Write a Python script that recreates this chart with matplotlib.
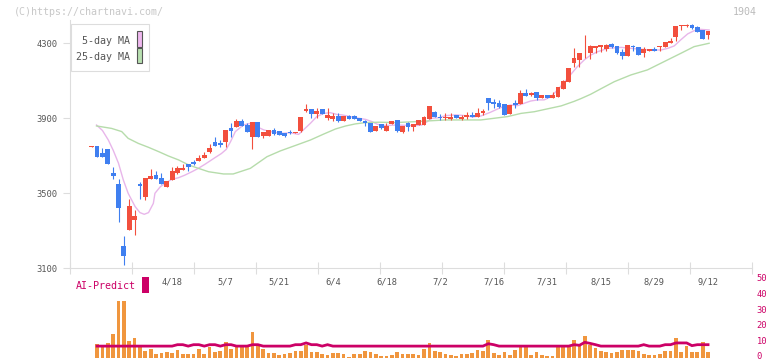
import matplotlib
matplotlib.use("Agg")
import matplotlib.pyplot as plt
from matplotlib.patches import Rectangle
from matplotlib.transforms import blended_transform_factory

# daily candles (index 0 = first visible day, 115 = 9/12)
opens = [3748, 3752, 3715, 3736, 3608, 3549, 3219, 3306, 3358, 3549,
         3478, 3578, 3596, 3582, 3535, 3572, 3606, 3624, 3654, 3667,
         3672, 3688, 3720, 3773, 3770, 3772, 3847, 3855, 3886, 3862,
         3802, 3880, 3806, 3807, 3836, 3830, 3823, 3827, 3822, 3834,
         3939, 3948, 3925, 3950, 3902, 3896, 3912, 3887, 3912, 3912,
         3900, 3884, 3873, 3834, 3870, 3834, 3871, 3891, 3825, 3877,
         3855, 3864, 3864, 3894, 3935, 3909, 3903, 3898, 3916, 3898,
         3905, 3919, 3905, 3926, 4006, 3987, 3980, 3976, 3923, 3981,
         3976, 4035, 4024, 4038, 4008, 4024, 4006, 4015, 4058, 4095,
         4197, 4212, 4251, 4250, 4275, 4282, 4268, 4296, 4285, 4255,
         4234, 4285, 4278, 4246, 4261, 4271, 4282, 4282, 4303, 4335,
         4392, 4394, 4397, 4389, 4371, 4344]
highs = [3752, 3752, 3740, 3736, 3640, 3576, 3272, 3469, 3411, 3562,
         3580, 3628, 3617, 3608, 3565, 3640, 3645, 3654, 3654, 3677,
         3704, 3722, 3763, 3798, 3784, 3838, 3873, 3896, 3898, 3873,
         3880, 3880, 3829, 3840, 3848, 3830, 3823, 3838, 3829, 3905,
         3974, 3948, 3953, 3950, 3953, 3926, 3926, 3912, 3918, 3916,
         3900, 3891, 3873, 3859, 3870, 3873, 3887, 3891, 3859, 3880,
         3869, 3891, 3912, 3966, 3941, 3923, 3926, 3930, 3916, 3920,
         3934, 3934, 3953, 3951, 4006, 4003, 3998, 3976, 3971, 3996,
         4049, 4056, 4040, 4038, 4024, 4024, 4042, 4067, 4104, 4168,
         4275, 4248, 4344, 4291, 4285, 4292, 4294, 4303, 4285, 4268,
         4293, 4292, 4278, 4278, 4268, 4278, 4287, 4305, 4326, 4392,
         4397, 4403, 4403, 4394, 4371, 4365]
lows = [3748, 3694, 3694, 3658, 3576, 3347, 3117, 3306, 3277, 3469,
        3464, 3578, 3578, 3551, 3535, 3572, 3601, 3624, 3619, 3651,
        3672, 3688, 3713, 3750, 3749, 3749, 3802, 3855, 3859, 3825,
        3736, 3800, 3797, 3807, 3811, 3809, 3798, 3816, 3820, 3829,
        3935, 3903, 3903, 3921, 3893, 3887, 3882, 3887, 3895, 3894,
        3884, 3859, 3829, 3834, 3843, 3834, 3871, 3828, 3820, 3834,
        3834, 3864, 3864, 3894, 3909, 3891, 3891, 3891, 3900, 3893,
        3894, 3905, 3905, 3919, 3944, 3957, 3953, 3917, 3923, 3957,
        3976, 4021, 4021, 3996, 4008, 4006, 4006, 4015, 4058, 4095,
        4175, 4172, 4220, 4216, 4246, 4253, 4261, 4275, 4243, 4214,
        4234, 4261, 4236, 4225, 4261, 4261, 4261, 4282, 4303, 4314,
        4371, 4385, 4378, 4362, 4323, 4325]
closes = [3752, 3694, 3694, 3658, 3594, 3423, 3167, 3432, 3379, 3539,
          3580, 3592, 3578, 3551, 3565, 3619, 3635, 3634, 3642, 3658,
          3688, 3704, 3741, 3750, 3756, 3838, 3831, 3886, 3859, 3825,
          3880, 3802, 3829, 3838, 3818, 3813, 3807, 3820, 3827, 3905,
          3948, 3923, 3937, 3921, 3916, 3912, 3887, 3912, 3898, 3898,
          3884, 3877, 3829, 3859, 3846, 3859, 3887, 3832, 3859, 3855,
          3869, 3891, 3909, 3966, 3909, 3903, 3909, 3909, 3900, 3909,
          3917, 3909, 3926, 3941, 3983, 3978, 3962, 3917, 3971, 3971,
          4035, 4021, 4033, 4008, 4024, 4006, 4024, 4067, 4099, 4168,
          4222, 4248, 4255, 4285, 4285, 4289, 4291, 4282, 4250, 4234,
          4293, 4282, 4239, 4268, 4268, 4261, 4287, 4305, 4312, 4392,
          4397, 4397, 4381, 4362, 4323, 4365]

# moving averages (day index, price)
ma5_x = [0.9, 2.0, 3.1, 4.0, 5.0, 5.9, 6.8, 8.1, 9.0, 9.8, 10.6, 11.5, 11.8, 12.8,
         13.7, 14.9, 16.2, 17.4, 18.7, 19.9, 21.2, 23.0, 24.2, 25.1, 25.9, 26.8,
         28.3, 29.6, 30.8, 32.1, 33.3, 34.6, 35.8, 37.0, 38.6, 39.5, 40.8, 42.0,
         43.3, 44.5, 45.8, 46.7, 49.2, 51.1, 52.3, 53.3, 54.8, 56.7, 58.6, 60.4,
         61.6, 62.6, 63.5, 64.8, 66.0, 67.9, 69.8, 71.0, 72.6, 74.4, 76.3, 78.2,
         79.4, 80.7, 81.9, 83.2, 84.4, 85.7, 86.9, 88.2, 89.4, 90.6, 91.9, 93.1,
         94.4, 96.3, 98.8, 100.6, 102.5, 104.4, 106.2, 107.5, 108.7, 109.9,
         111.2, 112.4, 113.6, 115.2]
ma5_y = [3864, 3835, 3784, 3730, 3660, 3571, 3500, 3429, 3397, 3388, 3397, 3446, 3500, 3535,
         3553, 3574, 3583, 3597, 3615, 3633, 3656, 3690, 3712, 3734, 3775, 3829,
         3864, 3873, 3855, 3838, 3829, 3823, 3820, 3823, 3814, 3838, 3873, 3909,
         3926, 3930, 3920, 3918, 3903, 3894, 3882, 3868, 3861, 3864, 3862, 3861,
         3864, 3882, 3900, 3903, 3914, 3918, 3914, 3907, 3912, 3932, 3957, 3971,
         3967, 3980, 3992, 3998, 3998, 4015, 4051, 4092, 4134, 4175, 4211, 4237,
         4255, 4273, 4278, 4273, 4268, 4264, 4264, 4273, 4286, 4318,
         4350, 4367, 4374, 4371]
ma25_x = [0.9, 3.7, 5.6, 6.8, 8.7, 10.6, 12.5, 14.3, 16.2, 18.1, 19.9, 21.8, 24.6,
          26.4, 29.6, 32.7, 35.2, 38.3, 40.8, 43.3, 45.5, 47.4, 49.2, 51.1, 53.6,
          56.7, 60.4, 63.5, 66.0, 69.8, 72.6, 75.1, 77.6, 80.1, 82.6, 85.0, 87.6,
          90.0, 91.3, 93.1, 94.4, 97.5, 100.6, 103.7, 106.8, 109.9, 112.4, 115.2]
ma25_y = [3859, 3846, 3829, 3793, 3766, 3745, 3722, 3699, 3678, 3651, 3633, 3615, 3603,
          3603, 3633, 3695, 3726, 3758, 3784, 3816, 3843, 3859, 3870, 3877, 3879,
          3877, 3882, 3887, 3891, 3891, 3891, 3900, 3909, 3926, 3935, 3950, 3966,
          3990, 4005, 4028, 4048, 4095, 4131, 4158, 4202, 4246, 4282, 4300]

# volume bars and AI-Predict line (days 1..115)
volume = [8.8, 6.7, 9.5, 15.2, 36, 36, 10.7, 12.6, 7.5, 4.4,
          5.7, 2.5, 3.2, 3.8, 3.2, 5.0, 2.5, 2.5, 2.5, 5.7,
          2.5, 6.9, 3.8, 4.4, 10.1, 5.7, 7.2, 6.9, 6.9, 16.4,
          7.6, 5.7, 3.2, 3.2, 1.9, 2.5, 3.2, 4.4, 4.4, 8.2,
          3.8, 3.8, 2.5, 1.9, 3.2, 3.2, 2.5, 0.6, 2.5, 2.5,
          4.4, 3.8, 2.5, 1.3, 1.3, 1.9, 3.8, 2.5, 2.5, 2.5,
          1.9, 5.7, 9.5, 4.4, 3.8, 2.5, 1.9, 1.3, 2.5, 2.5,
          3.2, 5.0, 4.4, 11.4, 3.2, 1.9, 3.8, 1.9, 5.0, 7.6,
          7.6, 1.9, 3.8, 1.9, 1.3, 1.3, 7.6, 7.6, 7.6, 11.4,
          7.6, 13.9, 8.2, 6.3, 4.4, 3.8, 3.2, 3.8, 5.0, 5.0,
          5.0, 4.4, 2.5, 1.9, 1.9, 2.5, 4.4, 4.4, 12.6, 3.8,
          7.6, 3.8, 3.8, 10.1, 3.8]
ai_predict = [7.3, 7.3, 7.3, 7.3, 7.3, 7.3, 7.3, 7.3, 7.3, 7.3,
              7.3, 7.3, 7.3, 7.3, 7.3, 8.2, 8.2, 7.3, 8.2, 8.2,
              7.3, 8.2, 8.2, 7.3, 8.2, 8.2, 7.3, 7.3, 7.3, 8.2,
              8.2, 7.3, 7.3, 7.3, 7.3, 7.3, 7.3, 8.2, 8.2, 9.3,
              8.2, 8.2, 7.3, 8.2, 7.3, 7.3, 7.3, 7.3, 7.3, 7.3,
              7.3, 7.3, 7.3, 7.3, 7.3, 7.3, 7.3, 7.3, 7.3, 7.3,
              7.3, 7.3, 7.3, 7.3, 7.3, 7.3, 7.3, 7.3, 7.3, 7.3,
              7.3, 7.3, 7.3, 8.8, 8.2, 7.3, 7.3, 7.3, 7.3, 7.3,
              7.3, 7.3, 7.3, 7.3, 7.3, 7.3, 7.3, 7.3, 7.3, 8.2,
              7.8, 9.7, 9.0, 8.2, 7.3, 7.3, 7.3, 7.3, 7.3, 7.3,
              7.3, 7.3, 8.2, 7.3, 7.3, 7.3, 8.2, 8.2, 9.3, 9.3,
              9.3, 7.6, 8.2, 8.2, 8.2]

date_labels = ["4/18", "5/7", "5/21", "6/4", "6/18", "7/2", "7/16", "7/31", "8/15", "8/29", "9/12"]
date_pos = [15, 25, 35, 45, 55, 65, 75, 85, 95, 105, 115]
vol_ticks = [0, 10, 20, 30, 40, 50]

RED = "#f24f3d"
BLUE = "#3f7ff0"
GRID = "#dddddd"
MAGENTA = "#cc0066"
MONO = "DejaVu Sans Mono"

W, H = 772, 361
fig = plt.figure(figsize=(W / 100, H / 100), dpi=100)


def fx(x):
    return x / W


def fy(y):
    return 1 - y / H


# main price panel
ax = fig.add_axes([fx(70), fy(268.3), fx(752) - fx(70), (268.3 - 20) / H])
ax.set_xlim(-4.05, 123.2)
ax.set_ylim(3100, 4424)

n = len(closes)
days = list(range(n))
for i in days:
    up = closes[i] >= opens[i]
    c = RED if up else BLUE
    ax.vlines(i, lows[i], highs[i], color=c, linewidth=0.8, zorder=3)
    bottom = min(opens[i], closes[i])
    height = max(abs(closes[i] - opens[i]), 5)
    ax.bar(i, height, bottom=bottom, width=0.9, color=c, linewidth=0, zorder=4)

ax.plot(ma5_x, ma5_y, color="#e8b6ea", linewidth=1.0, zorder=2)
ax.plot(ma25_x, ma25_y, color="#b6dcab", linewidth=1.0, zorder=2)

for s in ["top", "right"]:
    ax.spines[s].set_visible(False)
ax.spines["left"].set_color(GRID)
ax.spines["bottom"].set_color(GRID)
ax.set_yticks([3100, 3500, 3900, 4300])
ax.tick_params(axis="y", length=5, color=GRID, labelsize=6.3, labelcolor="#555555", pad=4)
for lab in ax.get_yticklabels():
    lab.set_family(MONO)
x0, x1 = ax.get_xlim()
ax.set_xticks([x0 + k * (x1 - x0) / 11 for k in range(12)])
ax.tick_params(axis="x", direction="inout", length=8, color=GRID, labelbottom=False)

for lab, p in zip(date_labels, date_pos):
    ax.text(p, -0.056, lab, transform=ax.get_xaxis_transform(), ha="center", va="center",
            fontsize=6.3, family=MONO, color="#555555")

# volume / AI-Predict panel
ax2 = fig.add_axes([fx(70), fy(357.7), fx(752) - fx(70), (357.7 - 278.3) / H])
ax2.set_xlim(x0, x1)
ax2.set_ylim(0, 50)
vol_x = days[1:]
ax2.bar(vol_x, volume, width=0.69, color="#f0963e", linewidth=0)
ax2.plot(vol_x, ai_predict, color=MAGENTA, linewidth=2.0, solid_joinstyle="miter")
for s in ["top", "left", "bottom", "right"]:
    ax2.spines[s].set_visible(False)
ax2.set_xticks([])
ax2.set_yticks([])
ax2.patch.set_alpha(0)

# right-hand volume scale, "0" nudged up so it stays inside the picture
tr = blended_transform_factory(ax2.transAxes, ax2.transData)
for v in vol_ticks:
    yy = v + 0.9 if v == 0 else v
    ax2.text(1.007, yy, str(v), transform=tr, ha="left", va="center", fontsize=6.3,
             family=MONO, color=MAGENTA, clip_on=False)

# legend box
fig.patches.append(Rectangle((fx(70.7), fy(71)), fx(78), (71 - 24) / H, transform=fig.transFigure,
                             facecolor="white", edgecolor=GRID, linewidth=0.8, zorder=5))
fig.text(fx(130), fy(41), "5-day MA", ha="right", va="center", fontsize=7.2, family=MONO,
         color="#555555", zorder=6)
fig.text(fx(130), fy(57), "25-day MA", ha="right", va="center", fontsize=7.2, family=MONO,
         color="#555555", zorder=6)
fig.patches.append(Rectangle((fx(136.5), fy(46.5)), fx(5.5), 15 / H, transform=fig.transFigure,
                             facecolor="#efb8ef", edgecolor="#555555", linewidth=0.8, zorder=6))
fig.patches.append(Rectangle((fx(136.5), fy(63)), fx(5.5), 15 / H, transform=fig.transFigure,
                             facecolor="#b8e0b0", edgecolor="#555555", linewidth=0.8, zorder=6))

# AI-Predict label
fig.text(fx(76), fy(286), "AI-Predict", ha="left", va="center", fontsize=7.2, family=MONO, color=MAGENTA)
fig.patches.append(Rectangle((fx(142.3), fy(292.7)), fx(6.4), 15.4 / H, transform=fig.transFigure,
                             facecolor=MAGENTA, edgecolor="none"))

# watermark and code
fig.text(fx(14), fy(12), "(C)https://chartnavi.com/", ha="left", va="center", fontsize=7.2,
         family=MONO, color="#c8c8c8")
fig.text(fx(757), fy(12), "1904", ha="right", va="center", fontsize=7.2, family=MONO, color="#bbbbbb")

fig.savefig("out.png", dpi=100)
